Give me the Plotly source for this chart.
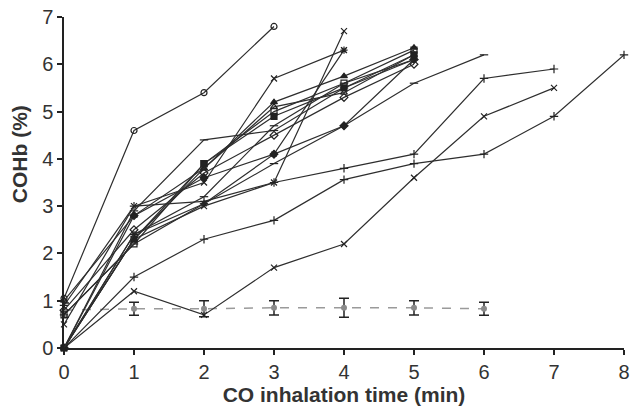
import plotly.graph_objects as go

time_min = [0, 1, 2, 3, 4, 5, 6, 7, 8]

# Individual subjects (COHb %, one value per minute from 0)
s_circle = [1.05, 4.6, 5.4, 6.8]
s_xstar = [0.5, 3.0, 3.5, 5.7, 6.3]
s_xsteep = [0.0, 2.3, 3.0, 3.5, 6.7]
s_star = [0.0, 2.4, 3.05, 4.1, 6.3]
s_plus_a = [0.9, 3.0, 3.1, 3.5, 3.8, 4.1, 5.7, 5.9]
s_plus_b = [0.0, 1.5, 2.3, 2.7, 3.56, 3.9, 4.1, 4.9, 6.2]
s_x_low = [0.0, 1.2, 0.7, 1.7, 2.2, 3.6, 4.9, 5.5]
s_dash = [0.7, 2.2, 3.05, 3.9, 4.7, 5.6, 6.2]
s_corner = [0.0, 2.9, 4.4, 4.6, 5.5, 6.1]
s_square = [0.7, 2.2, 3.9, 5.0, 5.6, 6.3]
s_tri_a = [0.0, 2.3, 3.8, 5.2, 5.75, 6.35]
s_tri_b = [1.0, 2.8, 3.8, 5.1, 5.4, 6.2]
s_dia_open = [0.8, 2.5, 3.7, 4.5, 5.3, 6.0]
s_dia_fill = [0.0, 2.8, 3.6, 4.1, 4.7, 6.1]
s_square_b = [0.0, 2.3, 3.9, 4.9, 5.5, 6.2]
s_bar = [0.0, 2.4, 3.2, 4.7, 5.6, 6.1]

subjects = [
    (s_circle, "circle-open"),
    (s_xstar, "x-thin-open"),
    (s_xsteep, "x-thin-open"),
    (s_star, "asterisk-open"),
    (s_plus_a, "cross-thin-open"),
    (s_plus_b, "cross-thin-open"),
    (s_x_low, "x-thin-open"),
    (s_dash, "line-ew-open"),
    (s_corner, "line-ew-open"),
    (s_square, "square-open"),
    (s_tri_a, "triangle-up"),
    (s_tri_b, "triangle-up-open"),
    (s_dia_open, "diamond-open"),
    (s_dia_fill, "diamond"),
    (s_square_b, "square"),
    (s_bar, "line-ew-open"),
]

# Control group mean +/- SD
ctrl_mean = [0.8, 0.83, 0.83, 0.85, 0.85, 0.85, 0.83]
ctrl_sd = [0.15, 0.14, 0.17, 0.15, 0.2, 0.15, 0.14]

x_ticks = [0, 1, 2, 3, 4, 5, 6, 7, 8]
y_ticks = [0, 1, 2, 3, 4, 5, 6, 7]
x_title = "CO inhalation time (min)"
y_title = "COHb (%)"

fig = go.Figure()

fig.add_trace(go.Scatter(
    x=time_min[:len(ctrl_mean)], y=ctrl_mean,
    mode="lines+markers",
    line=dict(color="#9a9a9a", width=1.5, dash="dash"),
    marker=dict(symbol="circle", size=6, color="#8a8a8a"),
    error_y=dict(type="data", array=ctrl_sd, visible=True,
                 color="#222222", thickness=1.5, width=5),
    cliponaxis=False, showlegend=False,
))

for vals, sym in subjects:
    fig.add_trace(go.Scatter(
        x=time_min[:len(vals)], y=vals,
        mode="lines+markers",
        line=dict(color="#2e2e2e", width=1.2),
        marker=dict(symbol=sym, size=6, color="#222222",
                    line=dict(color="#222222", width=1.2)),
        cliponaxis=False, showlegend=False,
    ))

axis_font = dict(family="Liberation Sans, Arial, sans-serif", size=20, color="#333333")
title_font = dict(family="Liberation Sans, Arial, sans-serif", size=21, color="#333333")

fig.add_annotation(
    text="<b>" + y_title + "</b>", textangle=-90,
    xref="paper", x=0, xshift=-45, xanchor="center",
    yref="y", y=4.1, yanchor="middle",
    showarrow=False, font=title_font,
)

fig.update_layout(
    width=636, height=420,
    margin=dict(l=64, r=6, t=14, b=72),
    paper_bgcolor="white", plot_bgcolor="white",
    xaxis=dict(
        range=[0, 8], tickvals=x_ticks, ticktext=[str(v) for v in x_ticks],
        showgrid=False, zeroline=False, showline=True,
        linecolor="#222222", linewidth=1.5,
        ticks="outside", ticklen=5, tickwidth=1.5, tickcolor="#222222",
        tickfont=axis_font,
        title=dict(text="<b>" + x_title + "</b>", font=title_font, standoff=5),
    ),
    yaxis=dict(
        range=[0, 7], tickvals=y_ticks, ticktext=[str(v) for v in y_ticks],
        showgrid=False, zeroline=False, showline=True,
        linecolor="#222222", linewidth=1.5,
        ticks="outside", ticklen=5, tickwidth=1.5, tickcolor="#222222",
        tickfont=axis_font,
    ),
)

fig.write_html("out.html")
